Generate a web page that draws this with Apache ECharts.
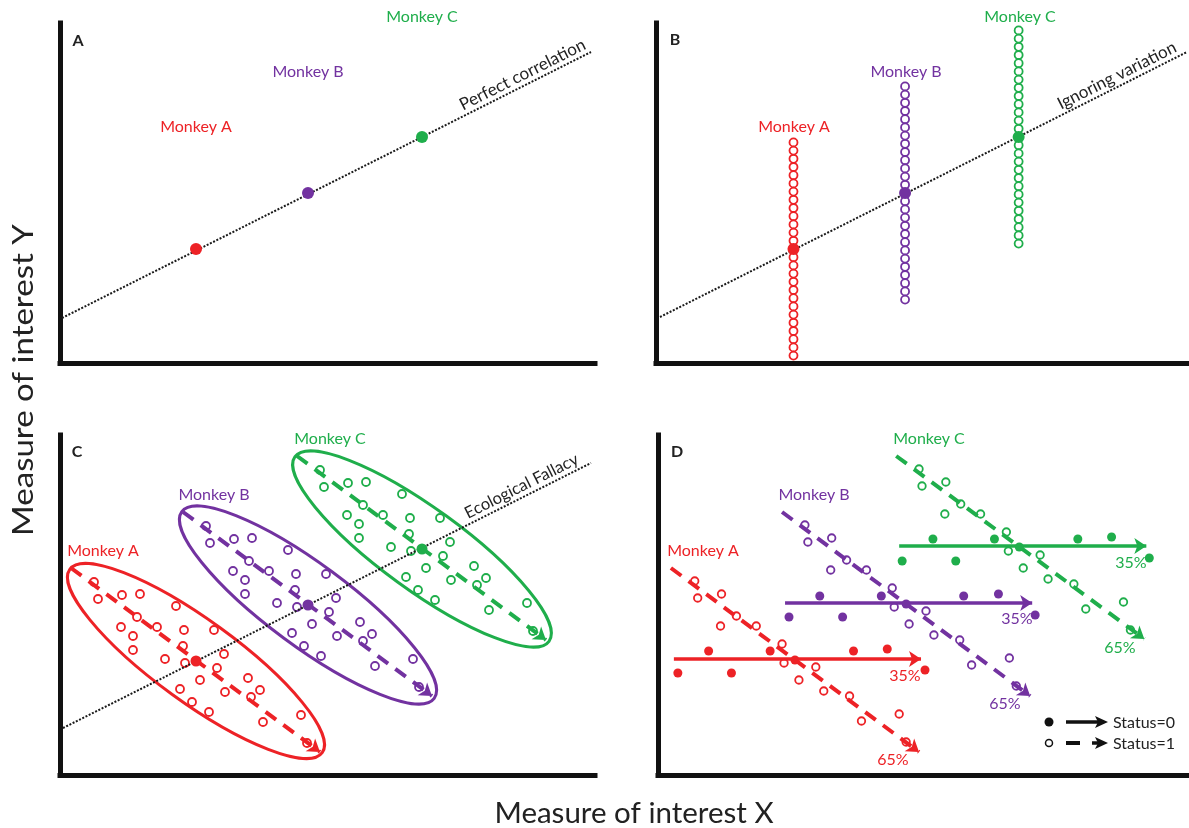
<!DOCTYPE html>
<html><head><meta charset="utf-8">
<script src="https://cdn.jsdelivr.net/npm/echarts@6/dist/echarts.min.js"></script>
<style>html,body{margin:0;padding:0;background:#fff}#c{width:1189px;height:828px}</style>
</head><body><div id="c"></div>
<script>
// ---------- DATA ----------
const monkeys = ['Monkey A', 'Monkey B', 'Monkey C'];
const RED = '#ed2226', PURPLE = '#7232a0', GREEN = '#1fae4b';
const COLORS = [RED, PURPLE, GREEN];

// Panel A: monkey means and perfect-correlation line
const aMeans = [[136, 114], [248, 170], [362, 226]];
const aLine = [[2, 45], [531, 311]];

// Panel B: columns of individual observations
const bColumnX = [138, 250, 364];
const bMeanY = [114, 170, 226];
const bColRedY = [7.4,15.6,23.8,32.0,40.2,48.4,56.6,64.8,73.0,81.2,89.4,97.6,105.8,122.2,130.4,138.6,146.8,155.0,163.2,171.4,179.6,187.8,196.0,204.2,212.4,220.6];
const bColPurpleY = [63.4,71.6,79.8,88.0,96.2,104.4,112.6,120.8,129.0,137.2,145.4,153.6,161.8,178.2,186.4,194.6,202.8,211.0,219.2,227.4,235.6,243.8,252.0,260.2,268.4,276.6];
const bColGreenY = [119.4,127.6,135.8,144.0,152.2,160.4,168.6,176.8,185.0,193.2,201.4,209.6,217.8,234.2,242.4,250.6,258.8,267.0,275.2,283.4,291.6,299.8,308.0,316.2,324.4,332.6];
const bLine = [[4, 46], [533, 311]];

// Panel C: within-monkey observations, trends, ellipses
const cPointsA = [[34,193],[38,176],[62,180],[80,181],[116,169],[77,158],[61,148],[97,148],[73,139],[124,145],[154,145],[73,125],[123,129],[105,116],[125,112],[164,121],[157,107],[140,95],[120,86],[165,83],[188,97],[200,85],[191,78],[132,73],[149,63],[203,53],[241,60],[247,32]];
const cPointsB = [[146,249],[150,232],[174,236],[192,237],[228,225],[189,214],[173,204],[209,204],[185,195],[236,201],[266,201],[185,181],[235,185],[217,172],[237,168],[276,177],[269,163],[252,151],[232,142],[277,139],[300,153],[312,141],[303,134],[244,129],[261,119],[315,109],[353,116],[359,88]];
const cPointsC = [[260,305],[264,288],[288,292],[306,293],[342,281],[303,270],[287,260],[323,260],[299,251],[350,257],[380,257],[299,237],[349,241],[331,228],[351,224],[390,233],[383,219],[366,207],[346,198],[391,195],[414,209],[426,197],[417,190],[358,185],[375,175],[429,165],[467,172],[473,144]];
const cMeans = [[136, 114], [248, 170], [362, 226]];
const cTrends = [[[11, 207], [260, 23]], [[123, 263], [372, 79]], [[237, 319], [486, 135]]];
// ellipse: centre x, centre y, semi-major, semi-minor, tilt (deg, downward)
const cEllipses = [[136, 114, 156, 41, 36], [248, 170, 157, 41, 36.5], [362, 226, 157, 41, 36]];
const cLine = [[3, 47], [531, 312]];

// Panel D: status 0 (filled) vs status 1 (open)
const dOpenA = [[37,194],[40,177],[64,181],[79,159],[63,149],[99,149],[125,131],[127,112],[159,108],[142,95],[167,84],[193,79],[205,54],[243,61],[250,33]];
const dOpenB = [[148,250],[151,233],[175,237],[190,215],[174,205],[210,205],[236,187],[238,168],[270,164],[253,151],[278,140],[304,135],[316,110],[354,117],[361,89]];
const dOpenC = [[263,306],[266,289],[290,293],[305,271],[289,261],[325,261],[351,243],[353,224],[385,220],[368,207],[393,196],[419,191],[431,166],[469,173],[476,145]];
const dFilledA = [[51,124],[113,124],[197,124],[231,126],[20,102],[74,102],[269,105]];
const dFilledB = [[163,179],[225,179],[308,179],[343,181],[132,158],[186,158],[380,160]];
const dFilledC = [[277,236],[339,236],[423,236],[457,238],[246,214],[300,214],[495,217]];
const dMeans = [[138, 115], [250, 171], [364, 228]];
const dSolid = [[[16,116],[265,116]], [[128,172],[377,172]], [[243,229],[492,229]]];
const dDashed = [[[13,207],[263,23]], [[125,263],[375,79]], [[240,319],[490,136]]];
const dPercent0 = ['35%', '35%', '35%'];
const dPercent1 = ['65%', '65%', '65%'];

const panelLetters = ['A', 'B', 'C', 'D'];
const lineLabels = ['Perfect correlation', 'Ignoring variation', 'Ecological Fallacy'];
const xTitle = 'Measure of interest X';
const yTitle = 'Measure of interest Y';
const legendTexts = ['Status=0', 'Status=1'];

// ---------- CHART ----------
const FONT = 'Lato, "Open Sans", sans-serif';
const chart = echarts.init(document.getElementById('c'), null, {renderer: 'canvas'});

const grids = [
  {left: 60, top: 23, width: 535, height: 340},
  {left: 656, top: 23, width: 535, height: 340},
  {left: 60, top: 435, width: 535, height: 340},
  {left: 658, top: 435, width: 535, height: 340}
];
const axisLine = {show: true, onZero: false, lineStyle: {color: '#111', width: 5, cap: 'square'}};
const xAxes = grids.map((g, i) => ({gridIndex: i, type: 'value', min: 0, max: 535, axisLine, axisTick: {show: false}, axisLabel: {show: false}, splitLine: {show: false}}));
const yAxes = grids.map((g, i) => ({gridIndex: i, type: 'value', min: 0, max: 340, axisLine, axisTick: {show: false}, axisLabel: {show: false}, splitLine: {show: false}}));

const series = [];
function dottedLine(panel, pts, text, endPad, size) {
  series.push({
    type: 'scatter', xAxisIndex: panel, yAxisIndex: panel, data: [], z: 1, silent: true,
    markLine: {
      silent: true, symbol: ['none', 'none'], animation: false,
      lineStyle: {color: '#1a1a1a', width: 2, type: [2, 1.6]},
      label: {show: true, position: 'insideEndTop', formatter: text, color: '#222', fontSize: size, fontFamily: FONT, distance: 2, padding: [0, endPad, 0, 0]},
      data: [[{coord: pts[0]}, {coord: pts[1]}]]
    }
  });
}
function means(panel, pts, size) {
  series.push({
    type: 'scatter', xAxisIndex: panel, yAxisIndex: panel, z: 6, symbolSize: size, silent: true,
    data: pts.map((p, i) => ({value: p, itemStyle: {color: COLORS[i], opacity: 1}}))
  });
}
function openPts(panel, pts, color, size) {
  series.push({
    type: 'scatter', xAxisIndex: panel, yAxisIndex: panel, z: 4, symbolSize: size, silent: true,
    itemStyle: {color: 'rgba(255,255,255,0)', borderColor: color, borderWidth: 1.8, opacity: 1},
    data: pts
  });
}
function filledPts(panel, pts, color, size) {
  series.push({
    type: 'scatter', xAxisIndex: panel, yAxisIndex: panel, z: 4, symbolSize: size, silent: true,
    itemStyle: {color: color, opacity: 1}, data: pts
  });
}
function arrows(panel, segs, dashed, width) {
  series.push({
    type: 'lines', coordinateSystem: 'cartesian2d', xAxisIndex: panel, yAxisIndex: panel, z: 3, silent: true,
    symbol: ['none', 'arrow'], symbolSize: [9, 12],
    lineStyle: {width: width, type: dashed ? [13, 9] : 'solid', opacity: 1},
    data: segs.map((s, i) => ({coords: s, lineStyle: {color: COLORS[i]}, itemStyle: {color: COLORS[i]}}))
  });
}

// Panel A
dottedLine(0, aLine, lineLabels[0], 0, 17);
means(0, aMeans, 12);

// Panel B
dottedLine(1, bLine, lineLabels[1], 6, 17);
[bColRedY, bColPurpleY, bColGreenY].forEach((ys, i) => openPts(1, ys.map(y => [bColumnX[i], y]), COLORS[i], 8));
means(1, bColumnX.map((x, i) => [x, bMeanY[i]]), 12);

// Panel C
dottedLine(2, cLine, lineLabels[2], 8, 16.5);
series.push({
  type: 'custom', xAxisIndex: 2, yAxisIndex: 2, z: 2, silent: true, clip: false,
  encode: {x: 0, y: 1},
  data: cEllipses.map((e, i) => ({value: e, itemStyle: {color: COLORS[i]}})),
  renderItem: (params, api) => {
    const c = api.coord([api.value(0), api.value(1)]);
    const s = api.size([api.value(2), api.value(3)]);
    return {
      type: 'ellipse', x: c[0], y: c[1], rotation: -api.value(4) * Math.PI / 180,
      shape: {cx: 0, cy: 0, rx: s[0], ry: s[1]},
      style: {fill: null, stroke: api.visual('color'), lineWidth: 3}
    };
  }
});
arrows(2, cTrends, true, 4);
[cPointsA, cPointsB, cPointsC].forEach((p, i) => openPts(2, p, COLORS[i], 8));
means(2, cMeans, 11);

// Panel D
arrows(3, dSolid, false, 3.5);
arrows(3, dDashed, true, 4);
[dOpenA, dOpenB, dOpenC].forEach((p, i) => openPts(3, p, COLORS[i], 7.5));
[dFilledA, dFilledB, dFilledC].forEach((p, i) => filledPts(3, p, COLORS[i], 9));
means(3, dMeans, 9);

// ---------- annotations ----------
const g = [];
function txt(x, y, text, color, size, extra) {
  g.push({type: 'text', x, y, silent: true, style: Object.assign({text, fill: color, font: size + 'px ' + FONT, textAlign: 'center', textVerticalAlign: 'middle'}, extra || {})});
}
// panel letters
[[78, 41], [675, 40], [77, 452], [677, 452]].forEach((p, i) => txt(p[0], p[1], panelLetters[i], '#222', 16, {font: 'bold 16px ' + FONT}));
// monkey labels
const monkeyPos = [
  [[196, 127], [308, 72], [422, 17]],
  [[794, 127], [906, 72], [1020, 17]],
  [[103, 551], [214, 495], [330, 439]],
  [[703, 551], [814, 495], [929, 439]]
];
monkeyPos.forEach(panel => panel.forEach((p, i) => txt(p[0], p[1], monkeys[i], COLORS[i], 16)));
// percentages
[[905, 676], [1017, 619], [1131, 563]].forEach((p, i) => txt(p[0], p[1], dPercent0[i], COLORS[i], 16));
[[893, 760], [1005, 704], [1120, 648]].forEach((p, i) => txt(p[0], p[1], dPercent1[i], COLORS[i], 16));
// axis titles
txt(634, 813, xTitle, '#222', 29.5);
g.push({type: 'text', x: 23, y: 380, rotation: Math.PI / 2, scaleX: 1.12, silent: true,
  style: {text: yTitle, fill: '#222', font: '29.5px ' + FONT, textAlign: 'center', textVerticalAlign: 'middle'}});
// legend
g.push({type: 'circle', shape: {cx: 1049, cy: 722, r: 4.5}, style: {fill: '#111'}, silent: true});
g.push({type: 'line', shape: {x1: 1066, y1: 722, x2: 1100, y2: 722}, style: {stroke: '#111', lineWidth: 3.5}, silent: true});
g.push({type: 'polygon', shape: {points: [[1095, 716], [1108, 722], [1095, 728], [1098, 722]]}, style: {fill: '#111'}, silent: true});
txt(1113, 723, legendTexts[0], '#222', 16, {textAlign: 'left'});
g.push({type: 'circle', shape: {cx: 1049, cy: 743, r: 3.5}, style: {fill: '#fff', stroke: '#111', lineWidth: 1.5}, silent: true});
g.push({type: 'line', shape: {x1: 1066, y1: 743, x2: 1080, y2: 743}, style: {stroke: '#111', lineWidth: 4}, silent: true});
g.push({type: 'line', shape: {x1: 1092, y1: 743, x2: 1100, y2: 743}, style: {stroke: '#111', lineWidth: 3.5}, silent: true});
g.push({type: 'polygon', shape: {points: [[1095, 737], [1108, 743], [1095, 749], [1098, 743]]}, style: {fill: '#111'}, silent: true});
txt(1113, 744, legendTexts[1], '#222', 16, {textAlign: 'left'});

chart.setOption({
  animation: false,
  backgroundColor: '#fff',
  grid: grids,
  xAxis: xAxes,
  yAxis: yAxes,
  series: series,
  graphic: g
});
</script>
</body></html>
